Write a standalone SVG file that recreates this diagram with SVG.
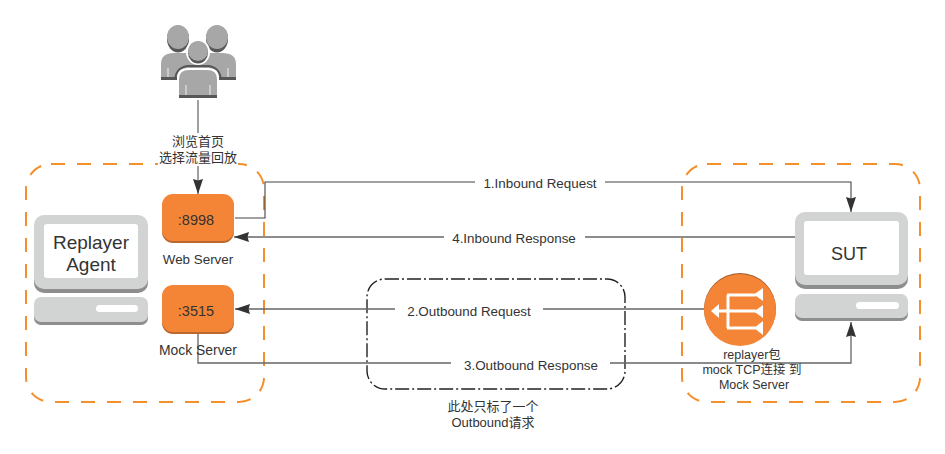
<svg xmlns="http://www.w3.org/2000/svg" width="945" height="454" viewBox="0 0 945 454">
<defs>
<style>
text{font-family:"Liberation Sans","Noto Sans CJK SC",sans-serif;fill:#333;text-anchor:middle;font-size:13px}
.group{fill:#fff;stroke:#f4902c;stroke-width:2;stroke-dasharray:14 12}
.port{fill:#f58536}
.lbl{font-size:13.4px}
.sm{font-size:13.4px}
.conn{fill:none;stroke:#444;stroke-width:1.1}
.conn2{fill:none;stroke:#666;stroke-width:1.3}
.mask{fill:#fff}
.gl{fill:#d2d4d3}
.gd{fill:#8e8e8e}
.u{fill:#a7a7a7}
.ud{fill:#575757}
.seam{stroke:#d8d8d8;stroke-width:1.5;fill:none}
</style>
<marker id="ah" markerUnits="userSpaceOnUse" markerWidth="16" markerHeight="12" refX="15" refY="5" orient="auto"><path d="M0 0L15 5L0 10L1.5 5Z" fill="#333"/></marker>
</defs>
<rect width="945" height="454" fill="#fff"/>
<g id="group-agent"><rect class="group" x="26" y="164" width="238" height="238" rx="25"/></g>
<g id="group-sut"><rect class="group" x="682" y="164" width="238" height="238" rx="25"/></g>
<g id="group-outbound"><rect x="367" y="279" width="258" height="110" rx="18" fill="#fff" stroke="#222" stroke-width="1.4" stroke-dasharray="14 3 2 3"/></g>
<g id="connectors">
<path class="conn" d="M235 218H265V182H851V212" marker-end="url(#ah)"/>
<path class="conn2" d="M795 237H234" marker-end="url(#ah)"/>
<path class="conn2" d="M704 309H235" marker-end="url(#ah)"/>
<path class="conn2" d="M198 333V363H851V322" marker-end="url(#ah)"/>
<path class="conn2" d="M198 99V194" marker-end="url(#ah)" style="stroke:#808080;stroke-width:1.5"/>
<rect class="mask" x="475" y="175" width="130" height="17"/>
<text class="lbl" x="540" y="188">1.Inbound Request</text>
<rect class="mask" x="444" y="230" width="141" height="17"/>
<text class="lbl" x="514" y="243">4.Inbound Response</text>
<rect class="mask" x="395" y="303" width="148" height="17"/>
<text class="lbl" x="469" y="316">2.Outbound Request</text>
<rect class="mask" x="451" y="357" width="159" height="17"/>
<text class="lbl" x="531" y="370">3.Outbound Response</text>
<rect class="mask" x="158" y="133" width="80" height="33"/>
<text x="198" y="146">浏览首页</text>
<text x="198" y="162">选择流量回放</text>
</g>
<g id="users">
<ellipse class="ud" cx="178" cy="39" rx="11" ry="13.5"/><ellipse class="u" cx="178" cy="37" rx="11" ry="12"/>
<ellipse class="ud" cx="217" cy="39" rx="11" ry="13.5"/><ellipse class="u" cx="217" cy="37" rx="11" ry="12"/>
<path class="u" d="M161 80V64Q161 53 174 53H222Q236 53 236 64V80Z"/>
<rect class="ud" x="161" y="77" width="75" height="3"/>
<path class="seam" d="M168 68V77M228 68V77"/>
<path d="M175 80Q176 68 187 66H209Q220 68 221 80" fill="none" stroke="#575757" stroke-width="2"/>
<path d="M177 100V78Q177 68 188 68H208Q219 68 219 78V100Z" fill="#fff"/>
<path class="u" d="M179 98V79Q179 70 189 70H207Q217 70 217 79V98Z"/>
<rect class="ud" x="179" y="95" width="38" height="3"/>
<path class="seam" d="M186 85V95M210 85V95"/>
<ellipse cx="198" cy="52" rx="12" ry="13" fill="#fff"/>
<ellipse class="ud" cx="198" cy="52.500" rx="10" ry="11"/><ellipse class="u" cx="198" cy="51" rx="10" ry="10"/>
</g>
<g id="replayer-agent">
<rect class="gd" x="34" y="218" width="114" height="75" rx="10"/>
<rect class="gl" x="34" y="215" width="114" height="74" rx="10"/>
<rect x="44" y="224" width="94" height="54" rx="3" fill="#fff"/>
<rect class="gd" x="34" y="301" width="114" height="24" rx="7"/>
<rect class="gl" x="34" y="297" width="114" height="25" rx="7"/>
<rect x="96" y="305" width="42" height="7" rx="3.5" fill="#fff"/>
<text x="91" y="249" style="font-size:19px">Replayer</text>
<text x="91" y="271" style="font-size:19px">Agent</text>
</g>
<g id="web-server">
<rect x="162" y="196" width="72" height="47" rx="11" fill="#b9682f"/>
<rect class="port" x="162" y="194" width="72" height="47" rx="11"/>
<text x="196" y="225" style="font-size:14.500px">:8998</text>
<text class="sm" x="198" y="264">Web Server</text>
</g>
<g id="mock-server">
<rect x="162" y="287" width="72" height="47" rx="11" fill="#b9682f"/>
<rect class="port" x="162" y="285" width="72" height="47" rx="11"/>
<text x="196" y="316" style="font-size:14.500px">:3515</text>
<text x="198" y="355" style="font-size:13.900px">Mock Server</text>
</g>
<g id="sut">
<rect class="gd" x="795" y="215" width="113" height="74" rx="10"/>
<rect class="gl" x="795" y="212" width="113" height="73" rx="10"/>
<rect x="804" y="221" width="95" height="54" rx="3" fill="#fff"/>
<rect class="gd" x="795" y="298" width="113" height="23" rx="7"/>
<rect class="gl" x="795" y="294" width="113" height="24" rx="7"/>
<rect x="856" y="302" width="43" height="7" rx="3.5" fill="#fff"/>
<text x="849" y="260" style="font-size:18px">SUT</text>
</g>
<g id="replayer-package">
<circle cx="740" cy="309" r="36" fill="#9c5a2c"/>
<circle cx="740" cy="310" r="36" fill="#f58536"/>
<path d="M716 311H756M728 295V328M727 295H756M727 328H756" fill="none" stroke="#fff" stroke-width="3"/>
<path d="M711 311L719 304V318Z M763 288V301L754 294.500Z M763 305V318L754 311.500Z M763 321V335L754 328Z" fill="#fff"/>
<text x="752" y="359" style="font-size:12.500px">replayer包</text>
<text x="752" y="374" style="font-size:12.500px">mock TCP连接 到</text>
<text x="754" y="389" style="font-size:12.500px">Mock Server</text>
</g>
<g id="note">
<text x="493" y="411">此处只标了一个</text>
<text x="493" y="427">Outbound请求</text>
</g>
</svg>
